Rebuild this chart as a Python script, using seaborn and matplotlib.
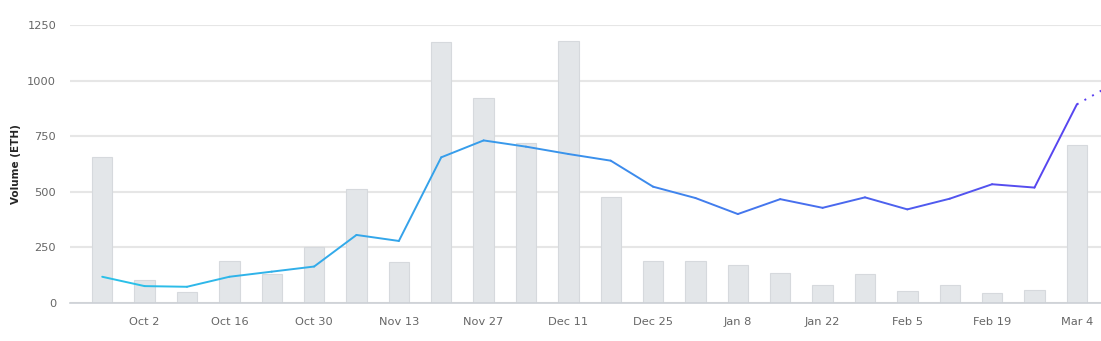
import numpy as np
import pandas as pd
import seaborn as sns
import matplotlib.pyplot as plt
from matplotlib.colors import LinearSegmentedColormap

# weekly volume (bars) and moving average (line)
weeks = ["Sep 25", "Oct 2", "Oct 9", "Oct 16", "Oct 23", "Oct 30", "Nov 6", "Nov 13",
         "Nov 20", "Nov 27", "Dec 4", "Dec 11", "Dec 18", "Dec 25", "Jan 1", "Jan 8",
         "Jan 15", "Jan 22", "Jan 29", "Feb 5", "Feb 12", "Feb 19", "Feb 26", "Mar 4"]
volume = [655, 103, 49, 189, 130, 252, 512, 184, 1173, 922, 719, 1178,
          477, 189, 189, 171, 135, 81, 130, 54, 80, 45, 60, 710]
avg = [118, 76, 73, 118, 141, 164, 306, 279, 655, 731, 703, 670,
       640, 523, 472, 400, 467, 428, 475, 421, 469, 534, 519, 893]
projected = 1000  # dotted continuation past the last week
tick_labels = ["Oct 2", "Oct 16", "Oct 30", "Nov 13", "Nov 27", "Dec 11",
               "Dec 25", "Jan 8", "Jan 22", "Feb 5", "Feb 19", "Mar 4"]
y_ticks = [0, 250, 500, 750, 1000, 1250]

df = pd.DataFrame({"week": weeks, "volume": volume, "avg": avg})

sns.set_style("white")
plt.rcParams["font.family"] = ["DejaVu Sans"]

fig = plt.figure(figsize=(11.01, 3.41), dpi=100)
ax = fig.add_axes([0.0636, 0.1114, 0.9364, 0.8153])

sns.barplot(data=df, x="week", y="volume", order=weeks, color="#e3e6e9",
            saturation=1, width=0.48, edgecolor="#d6d9dd", linewidth=0.8,
            ax=ax, zorder=2)

cmap = LinearSegmentedColormap.from_list("g", ["#2bc0e8", "#3b8eec", "#5a3ff0"])
n = len(avg)
for i in range(n - 1):
    ax.plot([i, i + 1], [avg[i], avg[i + 1]], color=cmap(i / (n - 1)),
            lw=1.4, solid_capstyle="round", zorder=3)
ax.plot([n - 1, n], [avg[-1], projected], color=cmap(1.0), lw=1.4,
        ls=(0, (1, 3.5)), zorder=3)

ax.set_xlim(-0.76, 23.57)
ax.set_ylim(0, 1250)
ax.set_yticks(y_ticks)
ax.set_yticklabels([str(v) for v in y_ticks])
ax.set_xticks(range(1, 24, 2))
ax.set_xticklabels(tick_labels)
ax.grid(axis="y", color="#e6e6e6", lw=1.5, zorder=0)
ax.set_axisbelow(True)

for s in ["top", "right", "left"]:
    ax.spines[s].set_visible(False)
ax.spines["bottom"].set_color("#ccd0d5")
ax.spines["bottom"].set_linewidth(1.2)
ax.spines["bottom"].set_zorder(4)

ax.tick_params(axis="y", length=0, pad=10, labelsize=8.2, labelcolor="#666666")
ax.tick_params(axis="x", length=5, width=0.8, color="#ccd0d5", pad=5,
               labelsize=8.2, labelcolor="#666666")
ax.set_xlabel("")
ax.set_ylabel("Volume (ETH)", fontsize=7.5, fontweight="bold")
ax.yaxis.set_label_coords(-0.048, 0.5)

fig.savefig("out.png", dpi=100)
